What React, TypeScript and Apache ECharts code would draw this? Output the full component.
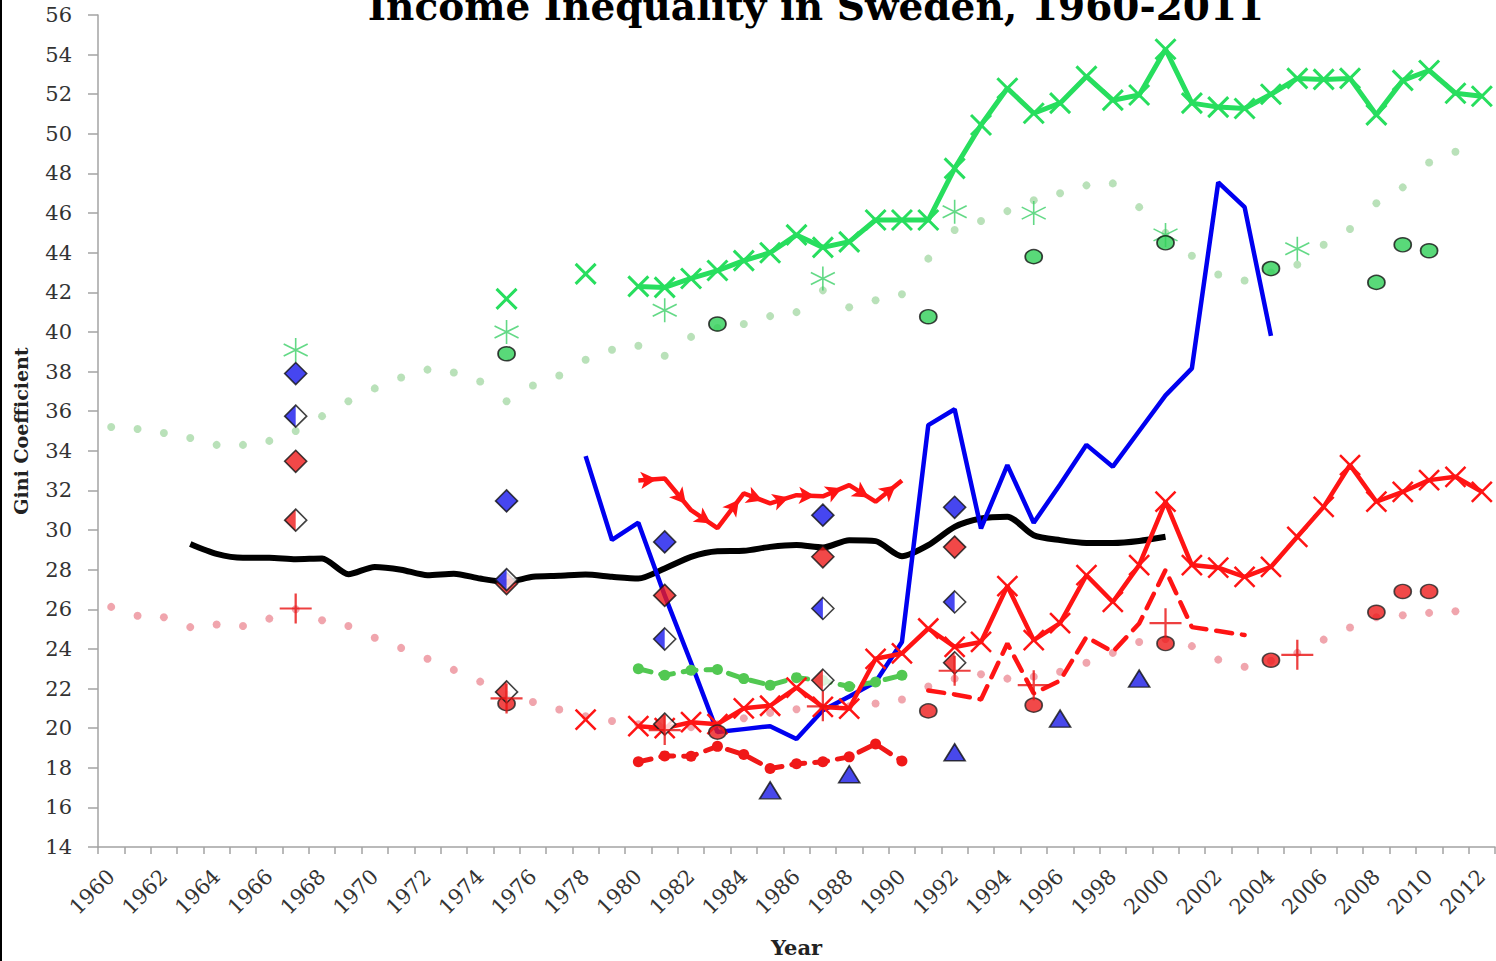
import React, { useEffect, useRef } from "react";
import * as echarts from "echarts";

// ---------- categories ----------
const years = [
  "1960", "1961", "1962", "1963", "1964", "1965", "1966", "1967", "1968", "1969",
  "1970", "1971", "1972", "1973", "1974", "1975", "1976", "1977", "1978", "1979",
  "1980", "1981", "1982", "1983", "1984", "1985", "1986", "1987", "1988", "1989",
  "1990", "1991", "1992", "1993", "1994", "1995", "1996", "1997", "1998", "1999",
  "2000", "2001", "2002", "2003", "2004", "2005", "2006", "2007", "2008", "2009",
  "2010", "2011", "2012",
];
const yTickMin = 14;
const yTickMax = 56;
const yTickStep = 2;

// ---------- continuous series (start year + values) ----------
const paleGreenStart = 1960;
const paleGreenValues = [
  35.2, 35.1, 34.9, 34.65, 34.3, 34.3, 34.5, 35.0, 35.75, 36.5,
  37.15, 37.7, 38.1, 37.95, 37.5, 36.5, 37.3, 37.8, 38.6, 39.1,
  39.3, 38.8, 39.75, 40.2, 40.4, 40.8, 41.0, 42.1, 41.25, 41.6,
  41.9, 43.7, 45.15, 45.6, 46.1, 46.65, 47.0, 47.4, 47.5, 46.3,
  45.0, 43.85, 42.9, 42.6, 43.0, 43.4, 44.4, 45.2, 46.5, 47.3,
  48.55, 49.1,
];

const palePinkStart = 1960;
const palePinkValues = [
  26.12, 25.67, 25.6, 25.1, 25.23, 25.16, 25.53, 26.0, 25.45, 25.16,
  24.56, 24.05, 23.5, 22.94, 22.35, 21.7, 21.32, 20.94, 20.6, 20.36,
  20.2, 20.0, 20.05, 20.2, 20.5, 20.77, 20.95, 21.0, 21.1, 21.24,
  21.45, 22.1, 22.5, 22.72, 22.5, 22.6, 22.85, 23.3, 23.8, 24.35,
  24.5, 24.14, 23.46, 23.1, 23.4, 23.8, 24.47, 25.08, 25.6, 25.7,
  25.82, 25.9,
];

const blackStart = 1963;
const blackValues = [
  29.3, 28.8, 28.6, 28.6, 28.53, 28.56, 27.77, 28.14, 28.0, 27.72,
  27.8, 27.55, 27.38, 27.64, 27.69, 27.76, 27.64, 27.55, 28.06, 28.65,
  28.93, 28.95, 29.15, 29.24, 29.12, 29.49, 29.44, 28.68, 29.24, 30.16,
  30.58, 30.67, 29.74, 29.49, 29.35, 29.35, 29.45, 29.66,
];

const blueStart = 1978;
const blueValues = [
  33.73, 29.5, 30.37, 26.7, 23.3, 19.8, 19.95, 20.1, 19.45, 20.9,
  21.6, 22.33, 24.35, 35.3, 36.1, 30.08, 33.28, 30.37, 32.3, 34.3,
  33.2, 35.0, 36.8, 38.16, 47.55, 46.3, 39.8,
];

const redArrowStart = 1980;
const redArrowValues = [32.5, 32.6, 31.0, 30.1, 31.85, 31.35, 31.76, 31.7, 32.27, 31.43, 32.5];

const greenDashStart = 1980;
const greenDashValues = [23.0, 22.67, 22.92, 22.96, 22.5, 22.17, 22.55, 22.4, 22.1, 22.33, 22.67];

const redBlobStart = 1980;
const redBlobValues = [18.3, 18.6, 18.58, 19.08, 18.67, 17.96, 18.2, 18.3, 18.55, 19.2, 18.34];

const redDashStart = 1991;
const redDashValues = [21.9, 21.7, 21.45, 24.27, 21.75, 22.4, 24.6, 23.85, 25.28, 27.98, 25.1, 24.9, 24.7];

const greenCrossIsolatedYears = [1975, 1978];
const greenCrossIsolatedValues = [41.67, 42.93];
const greenCrossStart = 1980;
const greenCrossValues = [
  42.3, 42.25, 42.7, 43.1, 43.6, 44.0, 44.9, 44.27, 44.55, 45.65,
  45.65, 45.65, 48.26, 50.45, 52.3, 51.04, 51.55, 52.9, 51.7, 51.96,
  54.27, 51.55, 51.35, 51.28, 52.0, 52.8, 52.75, 52.8, 50.96, 52.7,
  53.2, 52.05, 51.9,
];

const redCrossIsolatedYears = [1978];
const redCrossIsolatedValues = [20.43];
const redCrossStart = 1980;
const redCrossValues = [
  20.1, 20.0, 20.3, 20.2, 21.0, 21.13, 22.05, 21.07, 20.99, 23.5,
  23.77, 25.03, 24.1, 24.35, 27.17, 24.44, 25.3, 27.72, 26.37, 28.23,
  31.43, 28.23, 28.1, 27.64, 28.14, 29.66, 31.17, 33.28, 31.43, 31.93,
  32.52, 32.69, 31.93,
];

// ---------- point series (years + values) ----------
const greenStarYears = [1967, 1975, 1981, 1987, 1992, 1995, 2000, 2005];
const greenStarValues = [39.09, 40.0, 41.1, 42.7, 46.07, 46.0, 44.9, 44.2];

const greenCircleYears = [1975, 1983, 1991, 1995, 2000, 2004, 2008, 2009, 2010];
const greenCircleValues = [38.9, 40.4, 40.77, 43.8, 44.5, 43.2, 42.5, 44.4, 44.1];

const redCircleYears = [1975, 1983, 1991, 1995, 2000, 2004, 2008, 2009, 2010];
const redCircleValues = [21.24, 19.8, 20.87, 21.16, 24.27, 23.43, 25.85, 26.9, 26.9];

const redPlusYears = [1967, 1975, 1981, 1987, 1992, 1995, 2000, 2005];
const redPlusValues = [26.04, 21.5, 19.9, 21.1, 22.9, 22.17, 25.3, 23.7];

const diamondYears = [1967, 1975, 1981, 1987, 1992];
const blueDiamondValues = [37.9, 31.47, 29.4, 30.75, 31.15];
const halfBlueDiamondValues = [35.75, 27.5, 24.5, 26.04, 26.37];
const redDiamondValues = [33.47, 27.3, 26.7, 28.65, 29.14];
const halfRedDiamondValues = [30.5, 21.83, 20.2, 22.42, 23.3];

const blueTriangleYears = [1985, 1988, 1992, 1996, 1999];
const blueTriangleValues = [16.86, 17.67, 18.78, 20.48, 22.5];

// ---------- helpers ----------
const FIRST_YEAR = Number(years[0]);
type Cell = number | null;
function emptyRow(): Cell[] {
  return years.map(() => null);
}
function rowFromStart(start: number, vals: number[], base?: Cell[]): Cell[] {
  const row = base ? base.slice() : emptyRow();
  vals.forEach((v, i) => {
    row[start - FIRST_YEAR + i] = v;
  });
  return row;
}
function rowFromYears(ys: number[], vals: number[], base?: Cell[]): Cell[] {
  const row = base ? base.slice() : emptyRow();
  ys.forEach((y, i) => {
    row[y - FIRST_YEAR] = vals[i];
  });
  return row;
}

const X_PATH = "path://M-1,-1L1,1M-1,1L1,-1";
const PLUS_PATH = "path://M0,-1L0,1M-1,0L1,0";
const STAR_PATH = "path://M0,-1L0,1M-0.866,-0.5L0.866,0.5M-0.866,0.5L0.866,-0.5";
const LEFT_HALF_DIAMOND = "path://M0,-1L-1,0L0,1Z";

const SERIF = "DejaVu Serif";
const AXIS_GRAY = "#a3a3a3";
const RED = "#ff1414";
const BLUE = "#0000f0";
const GREEN = "#27de5e";

const ARROW_SIZE: [number, number] = [13, 16];

function halfDiamondSeries(id: string, vals: number[], color: string) {
  const row = rowFromYears(diamondYears, vals);
  return [
    {
      id: id + "-bg",
      type: "scatter",
      data: row,
      symbol: "diamond",
      symbolSize: [22, 22],
      itemStyle: { color: "#ffffff", borderWidth: 0 },
      z: 5,
    },
    {
      id: id + "-half",
      type: "scatter",
      data: row,
      symbol: LEFT_HALF_DIAMOND,
      symbolSize: [11, 22],
      symbolOffset: [-5.5, 0],
      itemStyle: { color, borderWidth: 0 },
      z: 5,
    },
    {
      id: id + "-outline",
      type: "scatter",
      data: row,
      symbol: "diamond",
      symbolSize: [22, 22],
      itemStyle: { color: "rgba(0,0,0,0)", borderColor: "#111", borderWidth: 1.6 },
      z: 5,
    },
  ];
}

function buildOption() {
  const series: any[] = [
    {
      id: "paleGreen",
      type: "scatter",
      data: rowFromStart(paleGreenStart, paleGreenValues),
      symbol: "circle",
      symbolSize: 8,
      itemStyle: { color: "#a7daa7" },
      z: 2,
    },
    {
      id: "palePink",
      type: "scatter",
      data: rowFromStart(palePinkStart, palePinkValues),
      symbol: "circle",
      symbolSize: 8,
      itemStyle: { color: "#ec8e98" },
      z: 2,
    },
    {
      id: "black",
      type: "line",
      data: rowFromStart(blackStart, blackValues),
      showSymbol: false,
      smooth: 0.25,
      lineStyle: { color: "#000", width: 6 },
      itemStyle: { color: "#000" },
      z: 3,
    },
    {
      id: "blue",
      type: "line",
      data: rowFromStart(blueStart, blueValues),
      showSymbol: false,
      lineStyle: { color: BLUE, width: 4.5 },
      itemStyle: { color: BLUE },
      z: 3,
    },
    {
      id: "redArrow",
      type: "line",
      data: rowFromStart(redArrowStart, redArrowValues),
      symbol: "arrow",
      symbolSize: ARROW_SIZE,
      showAllSymbol: true,
      lineStyle: { color: RED, width: 4.5 },
      itemStyle: { color: RED },
      z: 3,
    },
    {
      id: "greenDash",
      type: "line",
      data: rowFromStart(greenDashStart, greenDashValues),
      symbol: "circle",
      symbolSize: 11,
      showAllSymbol: true,
      lineStyle: { color: "#52c852", width: 5, type: [13, 10], cap: "round" },
      itemStyle: { color: "#52c852" },
      z: 3,
    },
    {
      id: "redBlob",
      type: "line",
      data: rowFromStart(redBlobStart, redBlobValues),
      symbol: "circle",
      symbolSize: 11,
      showAllSymbol: true,
      lineStyle: { color: "#f01818", width: 5, type: [13, 10], cap: "round" },
      itemStyle: { color: "#f01818" },
      z: 3,
    },
    {
      id: "redDash",
      type: "line",
      data: rowFromStart(redDashStart, redDashValues),
      showSymbol: false,
      lineStyle: { color: RED, width: 4.5, type: [16, 10], cap: "round" },
      itemStyle: { color: RED },
      z: 3,
    },
    {
      id: "redCross",
      type: "line",
      data: rowFromStart(redCrossStart, redCrossValues, rowFromYears(redCrossIsolatedYears, redCrossIsolatedValues)),
      symbol: X_PATH,
      symbolSize: 20,
      showAllSymbol: true,
      connectNulls: false,
      lineStyle: { color: RED, width: 4.5 },
      itemStyle: { color: RED, borderColor: RED, borderWidth: 2.5 },
      z: 4,
    },
    {
      id: "greenCross",
      type: "line",
      data: rowFromStart(greenCrossStart, greenCrossValues, rowFromYears(greenCrossIsolatedYears, greenCrossIsolatedValues)),
      symbol: X_PATH,
      symbolSize: 20,
      showAllSymbol: true,
      connectNulls: false,
      lineStyle: { color: GREEN, width: 5 },
      itemStyle: { color: GREEN, borderColor: GREEN, borderWidth: 3 },
      z: 4,
    },
    {
      id: "greenStar",
      type: "scatter",
      data: rowFromYears(greenStarYears, greenStarValues),
      symbol: STAR_PATH,
      symbolSize: [24, 24],
      itemStyle: { color: "rgba(0,0,0,0)", borderColor: "#3ccf68", borderWidth: 1.6 },
      z: 5,
    },
    {
      id: "greenCircle",
      type: "scatter",
      data: rowFromYears(greenCircleYears, greenCircleValues),
      symbol: "circle",
      symbolSize: [17, 14],
      itemStyle: { color: "#30cf58", borderColor: "#111", borderWidth: 1.6 },
      z: 5,
    },
    {
      id: "redCircle",
      type: "scatter",
      data: rowFromYears(redCircleYears, redCircleValues),
      symbol: "circle",
      symbolSize: [17, 14],
      itemStyle: { color: "#ee1c1c", borderColor: "#222", borderWidth: 1.6 },
      z: 5,
    },
    {
      id: "blueDiamond",
      type: "scatter",
      data: rowFromYears(diamondYears, blueDiamondValues),
      symbol: "diamond",
      symbolSize: [22, 22],
      itemStyle: { color: "#1818ec", borderColor: "#111", borderWidth: 1.6 },
      z: 5,
    },
    {
      id: "redDiamond",
      type: "scatter",
      data: rowFromYears(diamondYears, redDiamondValues),
      symbol: "diamond",
      symbolSize: [22, 22],
      itemStyle: { color: "#ee1a1a", borderColor: "#111", borderWidth: 1.6 },
      z: 5,
    },
    ...halfDiamondSeries("halfBlue", halfBlueDiamondValues, "#1818ec"),
    ...halfDiamondSeries("halfRed", halfRedDiamondValues, "#ee1a1a"),
    {
      id: "blueTriangle",
      type: "scatter",
      data: rowFromYears(blueTriangleYears, blueTriangleValues),
      symbol: "triangle",
      symbolSize: [21, 17],
      itemStyle: { color: "#1a1ae6", borderColor: "#111", borderWidth: 1.6 },
      z: 5,
    },
    {
      id: "redPlus",
      type: "scatter",
      data: rowFromYears(redPlusYears, redPlusValues),
      symbol: PLUS_PATH,
      symbolSize: [32, 30],
      itemStyle: { color: "rgba(0,0,0,0)", borderColor: "#e81010", borderWidth: 2.2 },
      z: 6,
    },
  ];

  return {
    animation: false,
    backgroundColor: "#ffffff",
    textStyle: { fontFamily: SERIF },
    grid: { left: 98, right: 1, top: 15, bottom: 114, containLabel: false, outerBoundsMode: "none" },
    xAxis: {
      type: "category",
      data: years,
      boundaryGap: true,
      axisLine: { show: true, lineStyle: { color: AXIS_GRAY, width: 1.5 } },
      axisTick: { show: true, interval: 0, alignWithLabel: false, length: 7, lineStyle: { color: AXIS_GRAY, width: 1.5 } },
      axisLabel: { interval: 1, rotate: 45, margin: 26, fontFamily: SERIF, fontSize: 21, color: "#333" },
      splitLine: { show: false },
      name: "Year",
      nameLocation: "middle",
      nameGap: 90,
      nameTextStyle: { fontFamily: SERIF, fontWeight: "bold", fontSize: 21, color: "#222" },
    },
    yAxis: {
      type: "value",
      min: yTickMin,
      max: yTickMax,
      interval: yTickStep,
      axisLine: { show: true, lineStyle: { color: AXIS_GRAY, width: 1.5 } },
      axisTick: { show: true, length: 10, lineStyle: { color: AXIS_GRAY, width: 1.5 } },
      axisLabel: { margin: 26, fontFamily: SERIF, fontSize: 21, color: "#333" },
      splitLine: { show: false },
      name: "Gini Coefficient",
      nameLocation: "middle",
      nameRotate: 90,
      nameGap: 68,
      nameTextStyle: { fontFamily: SERIF, fontWeight: "bold", fontSize: 19, color: "#222" },
    },
    graphic: [
      {
        type: "line",
        shape: { x1: 1, y1: 0, x2: 1, y2: 961 },
        style: { stroke: "#000", lineWidth: 2 },
        silent: true,
      },
      {
        type: "text",
        x: 816,
        y: 25,
        style: {
          text: "Income Inequality in Sweden, 1960-2011",
          font: 'bold 39px "DejaVu Serif"',
          fill: "#000",
          textAlign: "center",
          textVerticalAlign: "bottom",
        },
        silent: true,
      },
    ],
    series,
  };
}

export default function App() {
  const ref = useRef<HTMLDivElement>(null);
  useEffect(() => {
    if (!ref.current) return;
    const chart = echarts.init(ref.current, undefined, { renderer: "svg" });
    chart.setOption(buildOption() as any);

    // orient arrowheads along each segment, using the chart's own scales
    const startIdx = redArrowStart - FIRST_YEAR;
    const px = redArrowValues.map((v, i) => chart.convertToPixel({ gridIndex: 0 }, [startIdx + i, v]) as number[]);
    const arrowRow: any[] = emptyRow();
    redArrowValues.forEach((v, i) => {
      if (i === 0) {
        arrowRow[startIdx] = { value: v, symbol: "none" };
        return;
      }
      const dx = px[i][0] - px[i - 1][0];
      const dy = px[i][1] - px[i - 1][1];
      const theta = Math.atan2(-dy, dx);
      const h = ARROW_SIZE[1] / 2;
      arrowRow[startIdx + i] = {
        value: v,
        symbolRotate: (theta * 180) / Math.PI - 90,
        symbolOffset: [-h * Math.cos(theta), h * Math.sin(theta)],
      };
    });
    chart.setOption({ series: [{ id: "redArrow", data: arrowRow }] } as any);

    return () => chart.dispose();
  }, []);
  return (
    <div
      ref={ref}
      style={{ position: "absolute", left: 0, top: 0, width: 1496, height: 961, background: "#fff" }}
    />
  );
}
